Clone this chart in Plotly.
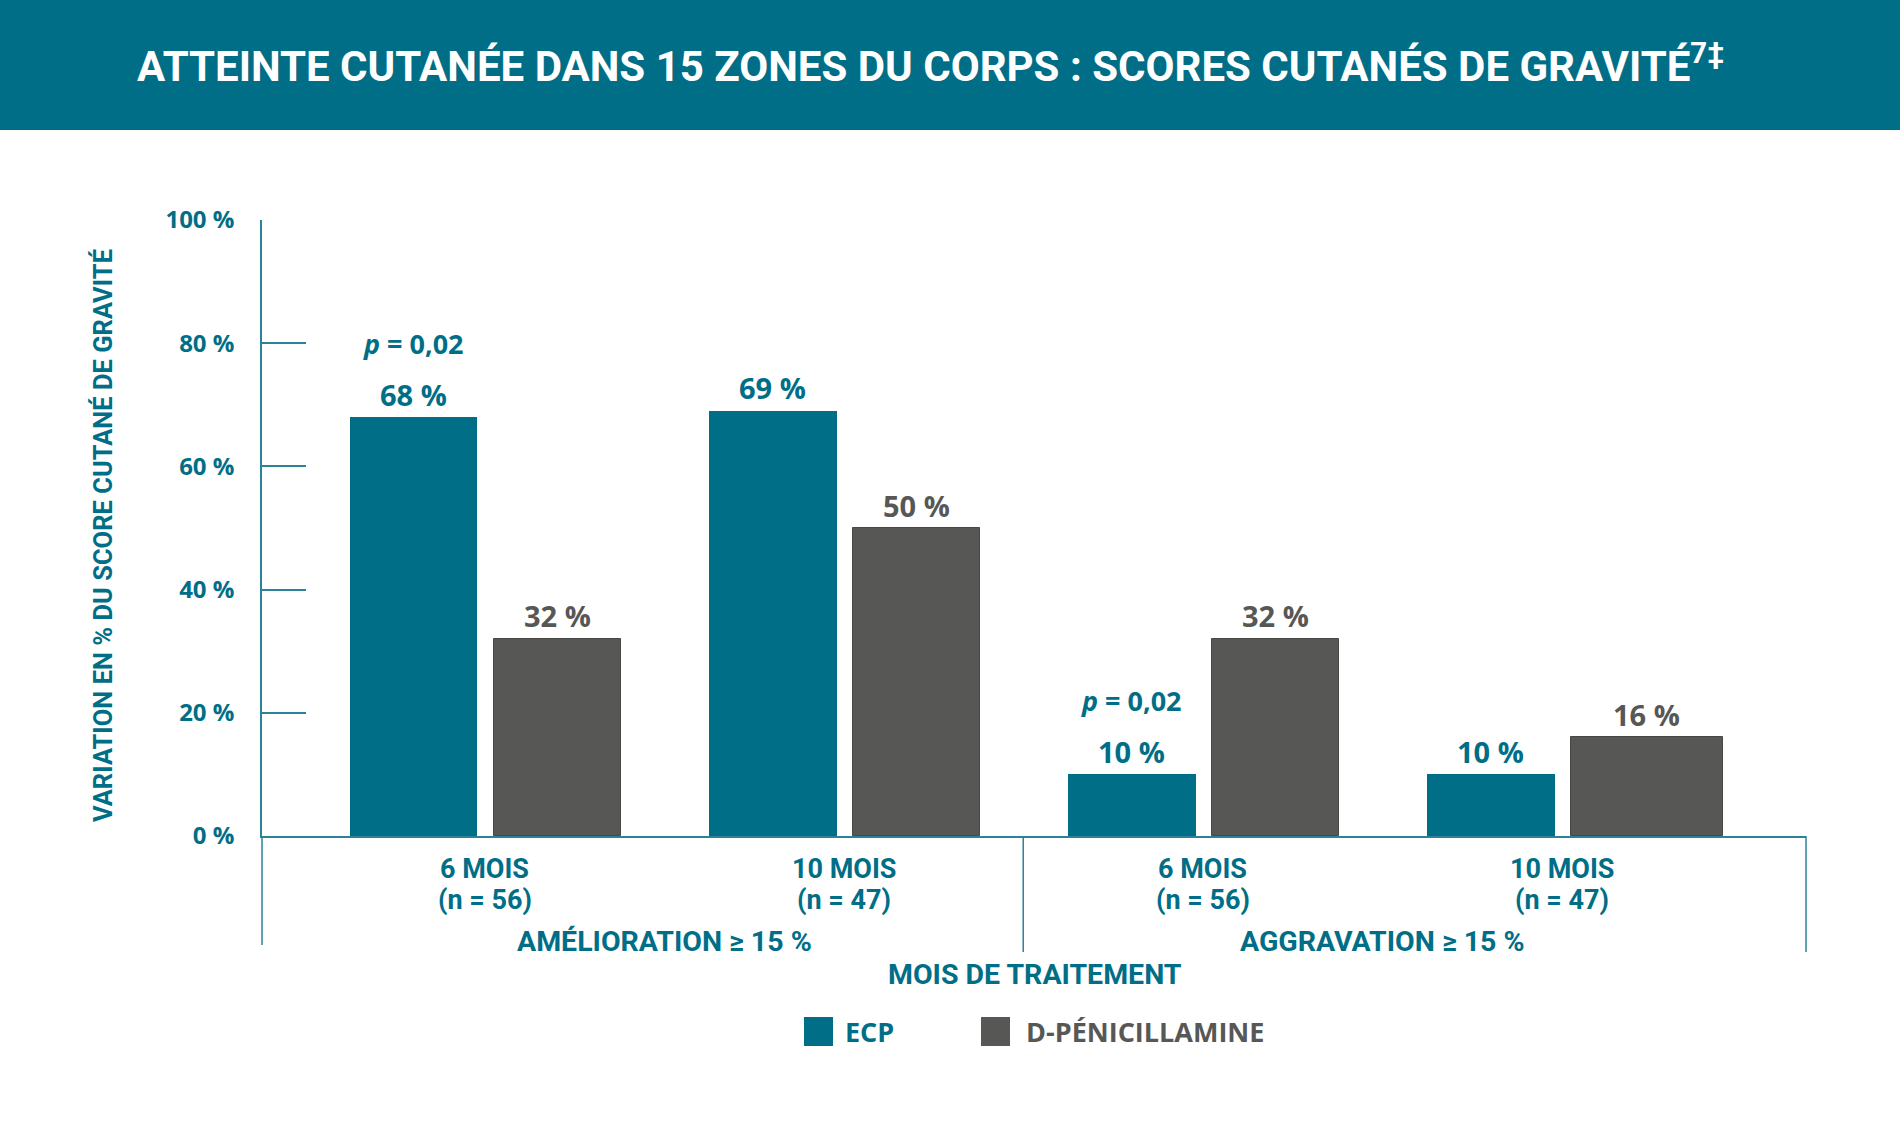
import plotly.graph_objects as go

# ---------------- data ----------------
categories = [0, 1, 2, 3]
cat_line1 = ["6 MOIS", "10 MOIS", "6 MOIS", "10 MOIS"]
cat_line2 = ["(n = 56)", "(n = 47)", "(n = 56)", "(n = 47)"]
groups = ["AMÉLIORATION ≥ 15 %", "AGGRAVATION ≥ 15 %"]
group_pos = [0.5, 2.5]
series_names = ["ECP", "D-PÉNICILLAMINE"]
ecp = [68, 69, 10, 10]
dpen = [32, 50, 32, 16]
pvals = ["<i>p</i> = 0,02", "", "<i>p</i> = 0,02", ""]
yticks = [0, 20, 40, 60, 80, 100]
ytick_text = [f"{v} %" for v in yticks]
title_text = "ATTEINTE CUTANÉE DANS 15 ZONES DU CORPS : SCORES CUTANÉS DE GRAVITÉ<sup>7‡</sup>"
ytitle = "VARIATION EN % DU SCORE CUTANÉ DE GRAVITÉ"
xtitle = "MOIS DE TRAITEMENT"

# ---------------- style ----------------
W, H = 1900, 1134
TEAL = "#006E87"
GRAY = "#575756"
LINE = "#2C8399"
COND = "Roboto, Liberation Sans, sans-serif"
WIDE = "Open Sans, DejaVu Sans, sans-serif"

def px(x):
    return x / W

def py(y):
    return 1 - y / H

ecp_w = [0.355] * 4
ecp_off = [-0.375] * 4
dpen_w = [0.355, 0.355, 0.355, 0.423]
dpen_off = [0.025] * 4

fig = go.Figure()
fig.add_trace(go.Bar(x=categories, y=ecp, width=ecp_w, offset=ecp_off, name=series_names[0],
                     marker=dict(color=TEAL, line=dict(width=0))))
fig.add_trace(go.Bar(x=categories, y=dpen, width=dpen_w, offset=dpen_off, name=series_names[1],
                     marker=dict(color=GRAY, line=dict(width=1, color="#474746"))))

ann = []
for i, c in enumerate(categories):
    ann.append(dict(x=c + ecp_off[i] + ecp_w[i] / 2, y=ecp[i], xref="x", yref="y", text=f"{ecp[i]} %",
                    showarrow=False, yanchor="middle", yshift=23,
                    font=dict(family=WIDE, size=29, color=TEAL, weight=700)))
    ann.append(dict(x=c + dpen_off[i] + dpen_w[i] / 2, y=dpen[i], xref="x", yref="y", text=f"{dpen[i]} %",
                    showarrow=False, yanchor="middle", yshift=23,
                    font=dict(family=WIDE, size=29, color=GRAY, weight=700)))
    if pvals[i]:
        ann.append(dict(x=c + ecp_off[i] + ecp_w[i] / 2, y=ecp[i], xref="x", yref="y", text=pvals[i],
                        showarrow=False, yanchor="middle", yshift=74,
                        font=dict(family=WIDE, size=27, color=TEAL, weight=700)))
    ann.append(dict(x=c, y=py(869), xref="x", yref="paper", text=cat_line1[i], showarrow=False,
                    yanchor="middle", font=dict(family=COND, size=27, color=TEAL, weight=700)))
    ann.append(dict(x=c, y=py(900), xref="x", yref="paper", text=cat_line2[i], showarrow=False,
                    yanchor="middle", font=dict(family=COND, size=27, color=TEAL, weight=700)))

for g, gp in zip(groups, group_pos):
    ann.append(dict(x=gp, y=py(941), xref="x", yref="paper", text=g, showarrow=False,
                    yanchor="middle", font=dict(family=COND, size=28.5, color=TEAL, weight=700)))

ann.append(dict(x=px(1035), y=py(974), xref="paper", yref="paper", text=xtitle, showarrow=False,
                yanchor="middle", font=dict(family=COND, size=28.5, color=TEAL, weight=700)))
ann.append(dict(x=px(103), y=py(536), xref="paper", yref="paper", text=ytitle, showarrow=False,
                textangle=-90, xanchor="center", yanchor="middle",
                font=dict(family=COND, size=25.5, color=TEAL, weight=700)))
ann.append(dict(x=px(930), y=py(63), xref="paper", yref="paper", text=title_text, showarrow=False,
                xanchor="center", yanchor="middle",
                font=dict(family=COND, size=42, color="white", weight=700)))
ann.append(dict(x=px(843), y=py(1031), xref="paper", yref="paper", text=series_names[0], showarrow=False,
                xanchor="left", yanchor="middle", font=dict(family=WIDE, size=27, color=TEAL, weight=700)))
ann.append(dict(x=px(1024), y=py(1031), xref="paper", yref="paper", text=series_names[1], showarrow=False,
                xanchor="left", yanchor="middle", font=dict(family=WIDE, size=27, color=GRAY, weight=700)))

shapes = [
    dict(type="rect", xref="paper", yref="paper", x0=0, x1=1, y0=py(130), y1=1,
         fillcolor=TEAL, line=dict(width=0), layer="below"),
    dict(type="line", xref="paper", yref="paper", x0=px(262), x1=px(262), y0=py(836), y1=py(945),
         line=dict(color=LINE, width=1.5)),
    dict(type="line", xref="x", yref="paper", x0=1.5, x1=1.5, y0=py(836), y1=py(952),
         line=dict(color=LINE, width=1.5)),
    dict(type="line", xref="paper", yref="paper", x0=px(1806), x1=px(1806), y0=py(836), y1=py(952),
         line=dict(color=LINE, width=1.5)),
    dict(type="rect", xref="paper", yref="paper", x0=px(804), x1=px(833), y0=py(1046), y1=py(1017),
         fillcolor=TEAL, line=dict(width=0)),
    dict(type="rect", xref="paper", yref="paper", x0=px(981), x1=px(1010), y0=py(1046), y1=py(1017),
         fillcolor=GRAY, line=dict(width=0)),
]

fig.update_layout(
    width=W, height=H, margin=dict(l=0, r=0, t=0, b=0, pad=0, autoexpand=False),
    paper_bgcolor="white", plot_bgcolor="white",
    barmode="overlay", showlegend=False, bargap=0,
    annotations=ann, shapes=shapes,
    xaxis=dict(domain=[px(262), px(1806)], range=[-0.62, 3.68], showline=True, linecolor=LINE,
               linewidth=1.5, showticklabels=False, ticks="", showgrid=False, zeroline=False,
               automargin=False),
    yaxis=dict(domain=[py(836), py(220)], range=[0, 100], showline=True, linecolor=LINE, linewidth=1.5,
               ticks="inside", ticklen=44, tickcolor=LINE, tickwidth=1.5, tickvals=yticks,
               ticktext=ytick_text, ticklabelstandoff=21, showgrid=False, zeroline=False,
               automargin=False,
               tickfont=dict(family=WIDE, size=24, color=TEAL, weight=700)),
)

fig.write_html("out.html", config={"displayModeBar": False},
               post_script="document.body.style.margin='0';document.body.style.overflow='hidden';")
